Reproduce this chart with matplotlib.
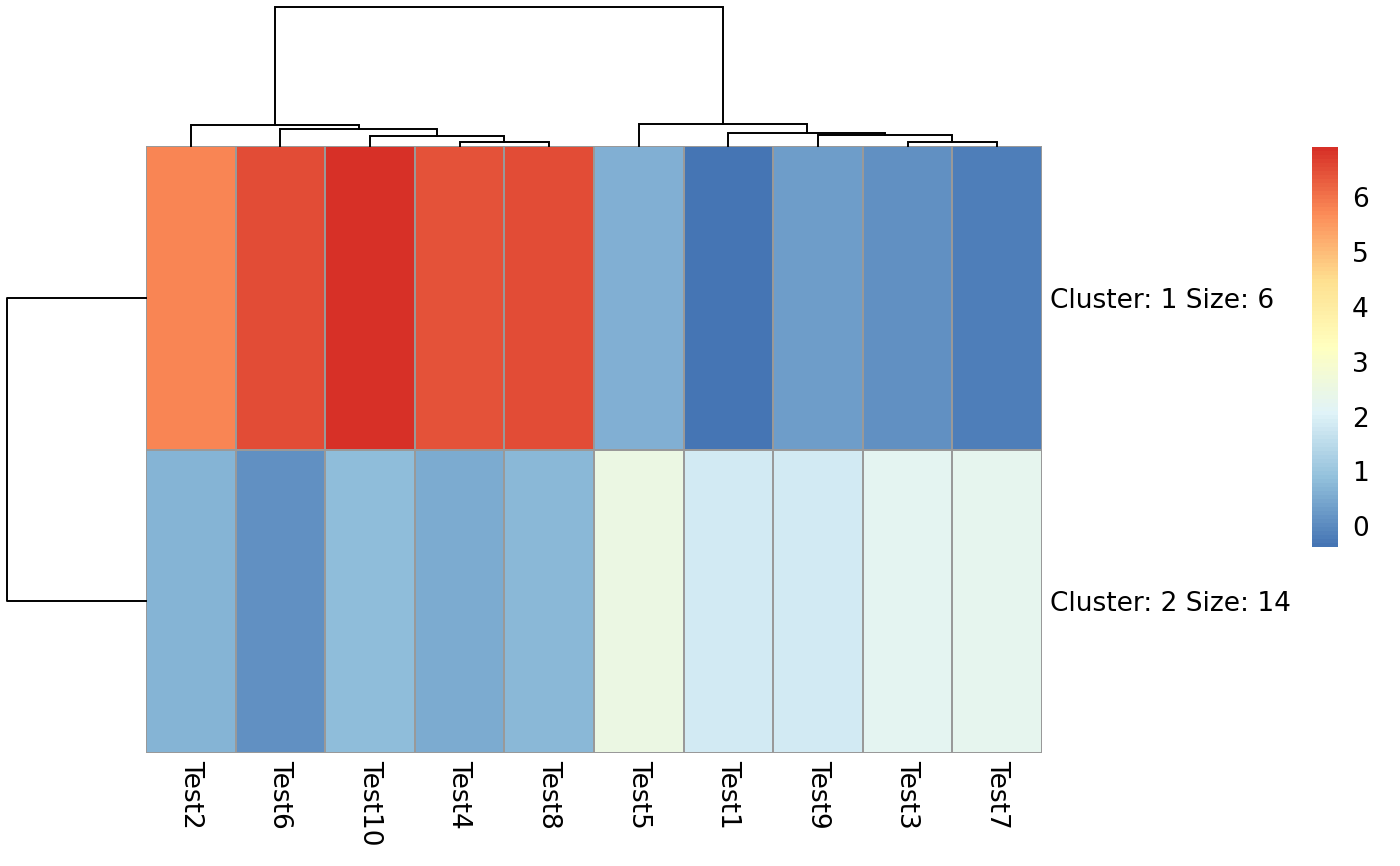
import numpy as np
import matplotlib
matplotlib.use("Agg")
import matplotlib.pyplot as plt
from matplotlib.colors import LinearSegmentedColormap

# colunas na ordem do dendrograma
col_labels = ["Test2", "Test6", "Test10", "Test4", "Test8",
              "Test5", "Test1", "Test9", "Test3", "Test7"]
row_labels = ["Cluster: 1 Size: 6", "Cluster: 2 Size: 14"]

# centros dos clusters
cluster1 = [5.80, 6.53, 6.92, 6.45, 6.50, 0.62, -0.38, 0.28, 0.13, -0.20]
cluster2 = [0.66, 0.07, 0.86, 0.53, 0.72, 2.48, 1.82, 1.87, 2.21, 2.25]

# fusoes das colunas: (no_a, no_b, altura); folhas 0..9 na ordem exibida
col_merges = [(3, 4, 0.37), (2, 10, 1.03), (1, 11, 1.70), (0, 12, 2.10),
              (8, 9, 0.43), (7, 14, 1.10), (6, 15, 1.30), (5, 16, 2.20),
              (13, 17, 13.9)]
row_merge_height = 13.9

# paleta padrao do pheatmap: rev(brewer.pal(7, "RdYlBu"))
palette = ["#4575B4", "#91BFDB", "#E0F3F8", "#FFFFBF", "#FEE090", "#FC8D59", "#D73027"]
cmap = LinearSegmentedColormap.from_list("rdylbu_rev", palette, N=100)

data = np.array([cluster1, cluster2])
vmin, vmax = data.min(), data.max()

W, H = 1400, 866
fig = plt.figure(figsize=(W / 100, H / 100), dpi=100)
fs = 19


def box(x0, y0, x1, y1):
    # pixels -> fracao da figura
    return [x0 / W, 1 - y1 / H, (x1 - x0) / W, (y1 - y0) / H]


# heatmap
ax = fig.add_axes(box(146, 146, 1042, 753))
mesh = ax.pcolormesh(data, cmap=cmap, vmin=vmin, vmax=vmax,
                     edgecolors="#999999", linewidth=1.1)
ax.set_xlim(0, len(col_labels))
ax.set_ylim(len(row_labels), 0)
ax.set_xticks(np.arange(len(col_labels)) + 0.5)
ax.set_xticklabels(col_labels, rotation=270, fontsize=fs)
ax.yaxis.tick_right()
ax.set_yticks(np.arange(len(row_labels)) + 0.5)
ax.set_yticklabels(row_labels, fontsize=fs)
ax.tick_params(axis="x", length=0, pad=5)
ax.tick_params(axis="y", length=0, pad=6)
for s in ax.spines.values():
    s.set_visible(False)

# dendrograma das colunas
axd = fig.add_axes(box(146, 7, 1042, 146), sharex=ax)
pos = {i: i + 0.5 for i in range(len(col_labels))}
hgt = {i: 0.0 for i in range(len(col_labels))}
for k, (a, b, h) in enumerate(col_merges):
    node = len(col_labels) + k
    axd.plot([pos[a], pos[a], pos[b], pos[b]], [hgt[a], h, h, hgt[b]],
             color="black", lw=1.4, clip_on=False, solid_joinstyle="miter")
    pos[node] = (pos[a] + pos[b]) / 2
    hgt[node] = h
axd.set_ylim(0, col_merges[-1][2])
axd.axis("off")

# dendrograma das linhas
axr = fig.add_axes(box(7, 146, 146, 753), sharey=ax)
axr.plot([0, row_merge_height, row_merge_height, 0], [0.5, 0.5, 1.5, 1.5],
         color="black", lw=1.4, clip_on=False)
axr.set_xlim(row_merge_height, 0)
axr.axis("off")

# legenda de cores
cax = fig.add_axes(box(1312, 147, 1338, 547))
cb = fig.colorbar(mesh, cax=cax, ticks=range(0, 7))
cb.outline.set_visible(False)
cax.tick_params(length=0, pad=10, labelsize=fs)

fig.savefig("out.png", dpi=100)
